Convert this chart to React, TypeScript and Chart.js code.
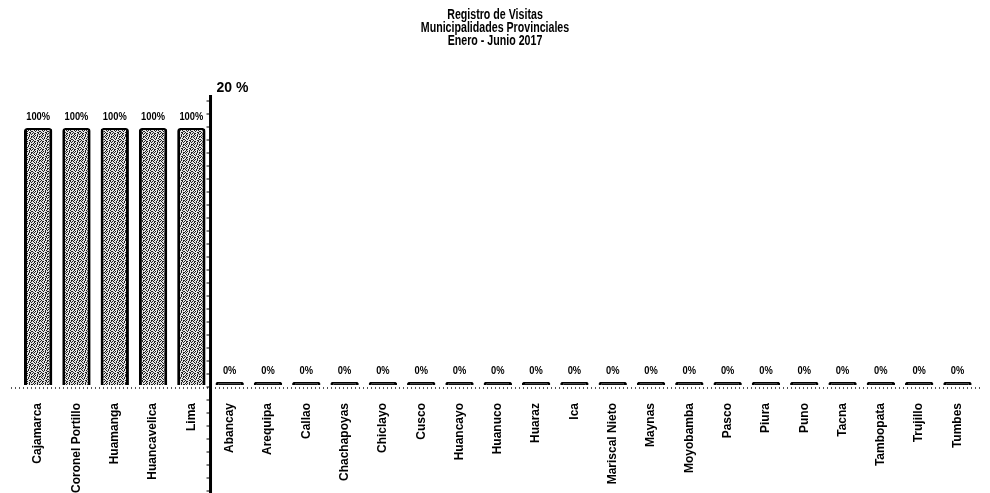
import React, { useEffect, useRef } from "react";
import { Chart, registerables } from "chart.js";

Chart.register(...registerables);

const titleLines = ["Registro de Visitas", "Municipalidades Provinciales", "Enero - Junio 2017"];

const provinces = [
  "Cajamarca", "Coronel Portillo", "Huamanga", "Huancavelica", "Lima",
  "Abancay", "Arequipa", "Callao", "Chachapoyas", "Chiclayo", "Cusco",
  "Huancayo", "Huanuco", "Huaraz", "Ica", "Mariscal Nieto", "Maynas",
  "Moyobamba", "Pasco", "Piura", "Puno", "Tacna", "Tambopata", "Trujillo", "Tumbes",
];

const visitPercent = [
  100, 100, 100, 100, 100,
  0, 0, 0, 0, 0, 0, 0, 0, 0, 0, 0, 0, 0, 0, 0, 0, 0, 0, 0, 0,
];

// Divider placed between the last visited and first unvisited province
const dividerAfterIndex = 4;
const dividerLabel = "20 %";

const FONT = "'Liberation Sans', Arial, sans-serif";

// Stippled grey texture used for the bar fill
function makeStipple(): CanvasPattern | string {
  const tile = [
    "x.x..x.x",
    ".x..x..x",
    "..x.x.x.",
    "x..x...x",
    ".x...xx.",
    "x.xx..x.",
    "..x..x.x",
    ".x.x.x..",
  ];
  const c = document.createElement("canvas");
  c.width = 8;
  c.height = 8;
  const g = c.getContext("2d");
  if (!g) return "#b5b5b5";
  g.fillStyle = "#e4e4e4";
  g.fillRect(0, 0, 8, 8);
  g.fillStyle = "#222";
  tile.forEach((row, y) => {
    for (let x = 0; x < row.length; x++) if (row[x] === "x") g.fillRect(x, y, 1, 1);
  });
  const p = g.createPattern(c, "repeat");
  return p || "#b5b5b5";
}

// Three-line heading in a condensed bold face
const condensedTitle = {
  id: "condensedTitle",
  afterDraw(chart: any) {
    const { ctx, width } = chart;
    ctx.save();
    ctx.fillStyle = "#000";
    ctx.font = `bold 14px ${FONT}`;
    ctx.textAlign = "center";
    ctx.textBaseline = "middle";
    titleLines.forEach((line, i) => {
      ctx.save();
      ctx.translate(width / 2, 15 + i * 13);
      ctx.scale(0.76, 1);
      ctx.fillText(line, 0, 0);
      ctx.restore();
    });
    ctx.restore();
  },
};

const valueLabels = {
  id: "valueLabels",
  afterDatasetsDraw(chart: any) {
    const { ctx } = chart;
    const meta = chart.getDatasetMeta(0);
    ctx.save();
    ctx.fillStyle = "#000";
    ctx.textAlign = "center";
    ctx.textBaseline = "middle";
    ctx.font = `bold 11px ${FONT}`;
    meta.data.forEach((bar: any, i: number) => {
      const v = visitPercent[i];
      ctx.save();
      ctx.translate(bar.x, bar.y - 11);
      ctx.scale(0.85, 1);
      ctx.fillText(`${v}%`, 0, 0);
      ctx.restore();
    });
    ctx.restore();
  },
};

const baselineAndDivider = {
  id: "baselineAndDivider",
  beforeDatasetsDraw(chart: any) {
    const { ctx, chartArea, scales } = chart;
    const y0 = scales.y.getPixelForValue(0);
    ctx.save();
    ctx.strokeStyle = "#555";
    ctx.lineWidth = 2;
    ctx.setLineDash([1, 3]);
    ctx.beginPath();
    ctx.moveTo(chartArea.left - 8, y0 + 3);
    ctx.lineTo(chartArea.right + 6, y0 + 3);
    ctx.stroke();
    ctx.restore();
  },
  afterDatasetsDraw(chart: any) {
    const { ctx, scales, height } = chart;
    const x = (scales.x.getPixelForValue(dividerAfterIndex) + scales.x.getPixelForValue(dividerAfterIndex + 1)) / 2;
    const top = 95;
    ctx.save();
    ctx.strokeStyle = "#000";
    ctx.lineWidth = 3;
    ctx.beginPath();
    ctx.moveTo(x, top);
    ctx.lineTo(x, height);
    ctx.stroke();
    ctx.lineWidth = 1;
    for (let ty = top + 6; ty < height; ty += 13) {
      ctx.beginPath();
      ctx.moveTo(x - 4, ty);
      ctx.lineTo(x, ty);
      ctx.stroke();
    }
    ctx.fillStyle = "#000";
    ctx.font = `bold 14px ${FONT}`;
    ctx.textAlign = "left";
    ctx.textBaseline = "middle";
    ctx.fillText(dividerLabel, x + 6, 88);
    ctx.restore();
  },
};

export default function App() {
  const ref = useRef<HTMLCanvasElement>(null);

  useEffect(() => {
    document.body.style.margin = "0";
    if (!ref.current) return;
    const stipple = makeStipple();
    const chart = new Chart(ref.current, {
      type: "bar",
      data: {
        labels: provinces,
        datasets: [
          {
            data: visitPercent,
            backgroundColor: visitPercent.map((v) => (v > 0 ? stipple : "#111")),
            borderColor: "#000",
            borderWidth: { left: 3, right: 3, top: 2, bottom: 0 },
            borderSkipped: "bottom",
            borderRadius: 3,
            minBarLength: 3,
            barPercentage: 0.74,
            categoryPercentage: 1,
          },
        ],
      },
      options: {
        responsive: false,
        animation: false,
        layout: { padding: { left: 19, right: 6, top: 128, bottom: 0 } },
        plugins: {
          legend: { display: false },
          tooltip: { enabled: false },
          title: { display: false },
        },
        scales: {
          x: {
            grid: { display: false, drawTicks: false },
            border: { display: false },
            ticks: {
              color: "#000",
              font: { family: FONT, size: 12, weight: "bold" },
              minRotation: 90,
              maxRotation: 90,
              autoSkip: false,
              padding: 18,
            },
            afterFit(scale: any) {
              scale.height = 108;
            },
          },
          y: {
            display: false,
            min: 0,
            max: 100,
          },
        },
      },
      plugins: [baselineAndDivider, valueLabels, condensedTitle],
    });
    return () => chart.destroy();
  }, []);

  return (
    <div style={{ width: 990, height: 493, background: "#fff" }}>
      <canvas ref={ref} width={990} height={493} />
    </div>
  );
}
